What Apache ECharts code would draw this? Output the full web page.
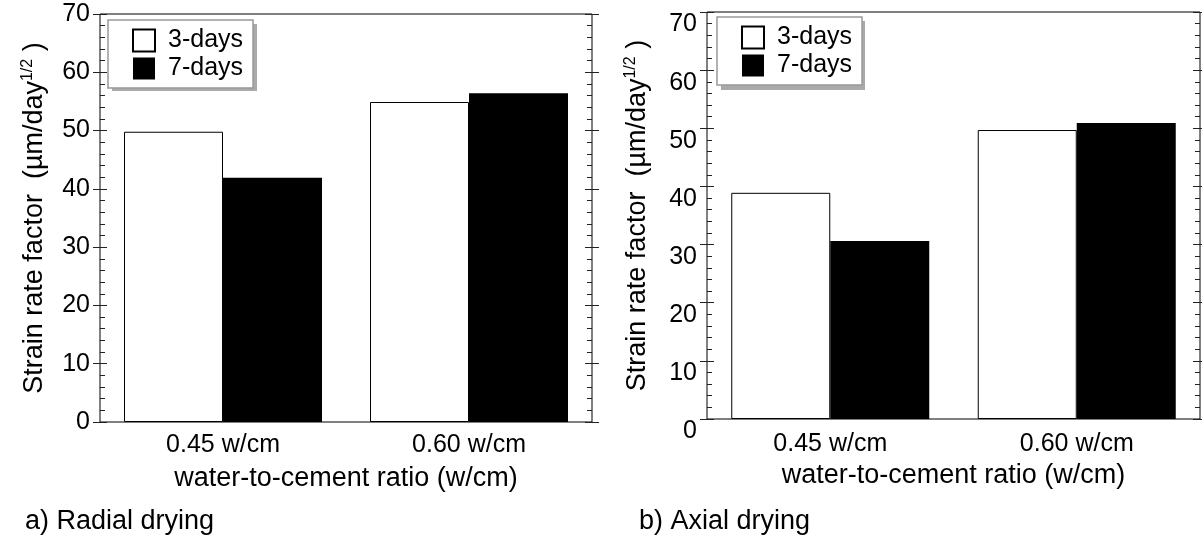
<!DOCTYPE html>
<html><head><meta charset="utf-8">
<script src="https://cdn.jsdelivr.net/npm/echarts@6/dist/echarts.min.js"></script>
<style>html,body{margin:0;padding:0;background:#fff}#c{width:1202px;height:546px}</style>
</head><body><div id="c"></div>
<script>
const categories = ['0.45 w/cm', '0.60 w/cm'];
const seriesNames = ['3-days', '7-days'];
const radial3 = [49.8, 54.9];
const radial7 = [41.9, 56.4];
const axial3 = [38.9, 49.7];
const axial7 = [30.6, 50.9];
const yMin = 0, yMax = 70, yStep = 10;
const captions = ['a) Radial drying', 'b) Axial drying'];
const xTitle = 'water-to-cement ratio (w/cm)';

const FONT = '"Liberation Sans", Arial, Helvetica, sans-serif';
const FS = 25;
const FT = 27;
const grids = [
  {left: 100, right: 610, top: 14, bottom: 124, show: true, borderColor: '#000', borderWidth: 1},
  {left: 707, right: 2, top: 12, bottom: 127, show: true, borderColor: '#000', borderWidth: 1}
];
const labelVA = ['middle', 'top'];
const catMargin = [11, 13];
const nameGaps = [52, 56];

const xAxes = [], yAxes = [];
grids.forEach((g, i) => {
  xAxes.push({
    gridIndex: i, type: 'category', data: categories, position: 'bottom',
    axisLine: {show: false}, axisTick: {show: false},
    axisLabel: {fontSize: FS, color: '#000', fontFamily: FONT, margin: catMargin[i]},
    name: xTitle, nameLocation: 'middle', nameGap: 43,
    nameTextStyle: {fontSize: FT, color: '#000', fontFamily: FONT}
  });
  const base = {gridIndex: i, type: 'value', min: yMin, max: yMax, interval: yStep,
    splitLine: {show: false}, axisLine: {show: false}};
  yAxes.push(Object.assign({}, base, {
    position: 'left',
    axisTick: {show: true, inside: false, length: 7, lineStyle: {color: '#222'}},
    axisLabel: {fontSize: FS, color: '#000', fontFamily: FONT, margin: 10, verticalAlign: labelVA[i]},
    name: '{a|Strain rate factor  (µm/day}{s|1/2}{a| )}',
    nameLocation: 'middle', nameRotate: 90, nameGap: nameGaps[i],
    nameTextStyle: {
      color: '#000', fontFamily: FONT,
      rich: {
        a: {fontSize: FT, fontFamily: FONT, color: '#000', lineHeight: 28, verticalAlign: 'bottom'},
        s: {fontSize: 16, fontFamily: FONT, color: '#000', lineHeight: 28, verticalAlign: 'top'}
      }
    }
  }));
  yAxes.push(Object.assign({}, base, {
    position: 'left',
    axisTick: {show: true, inside: true, length: 7, lineStyle: {color: '#222'}},
    minorTick: {show: true, splitNumber: 5, length: 5, lineStyle: {color: '#222'}},
    axisLabel: {show: false}
  }));
  yAxes.push(Object.assign({}, base, {
    position: 'right',
    axisTick: {show: true, inside: true, length: 7, lineStyle: {color: '#222'}},
    minorTick: {show: true, splitNumber: 5, length: 5, lineStyle: {color: '#222'}},
    axisLabel: {show: false}
  }));
  yAxes.push(Object.assign({}, base, {
    position: 'right',
    axisTick: {show: true, inside: false, length: 7, lineStyle: {color: '#222'}},
    axisLabel: {show: false}
  }));
});

const white = {color: '#fff', borderColor: '#000', borderWidth: 1};
const black = {color: '#000'};
function bar(name, data, gi, style) {
  return {type: 'bar', name: name, data: data, xAxisIndex: gi, yAxisIndex: gi * 4,
    barWidth: 99, barGap: '0%', itemStyle: style, emphasis: {disabled: true}, silent: true};
}
const series = [
  bar(seriesNames[0], radial3, 0, white), bar(seriesNames[1], radial7, 0, black),
  bar(seriesNames[0], axial3, 1, white), bar(seriesNames[1], axial7, 1, black)
];

const legendBoxes = [{x: 108, y: 20, w: 145, h: 67}, {x: 717, y: 17, w: 144, h: 69}];
function legend(b) {
  return {
    left: b.x, top: b.y, orient: 'vertical', selectedMode: false, z: 10,
    padding: [8, 10, 7, 24], itemGap: 3, itemWidth: 22, itemHeight: 22,
    backgroundColor: '#fff', borderColor: '#999', borderWidth: 1.5,
    textStyle: {fontSize: FS, color: '#000', fontFamily: FONT, padding: [0, 0, 0, 8]},
    data: [
      {name: seriesNames[0], icon: 'rect', itemStyle: {color: '#fff', borderColor: '#000', borderWidth: 2}},
      {name: seriesNames[1], icon: 'rect'}
    ]
  };
}
const shadows = legendBoxes.map(b => ({
  type: 'rect', z: 5, silent: true,
  shape: {x: b.x + 4, y: b.y + 4, width: b.w, height: b.h},
  style: {fill: '#aaa'}
}));

const option = {
  animation: false,
  backgroundColor: '#fff',
  textStyle: {fontFamily: FONT},
  title: [
    {text: captions[0], left: 20, top: 503, textStyle: {fontSize: FT, fontWeight: 'normal', color: '#000', fontFamily: FONT}},
    {text: captions[1], left: 634, top: 503, textStyle: {fontSize: FT, fontWeight: 'normal', color: '#000', fontFamily: FONT}}
  ],
  graphic: shadows,
  legend: legendBoxes.map(legend),
  grid: grids,
  xAxis: xAxes,
  yAxis: yAxes,
  series: series
};
const chart = echarts.init(document.getElementById('c'), null, {renderer: 'canvas'});
chart.setOption(option);
</script></body></html>
